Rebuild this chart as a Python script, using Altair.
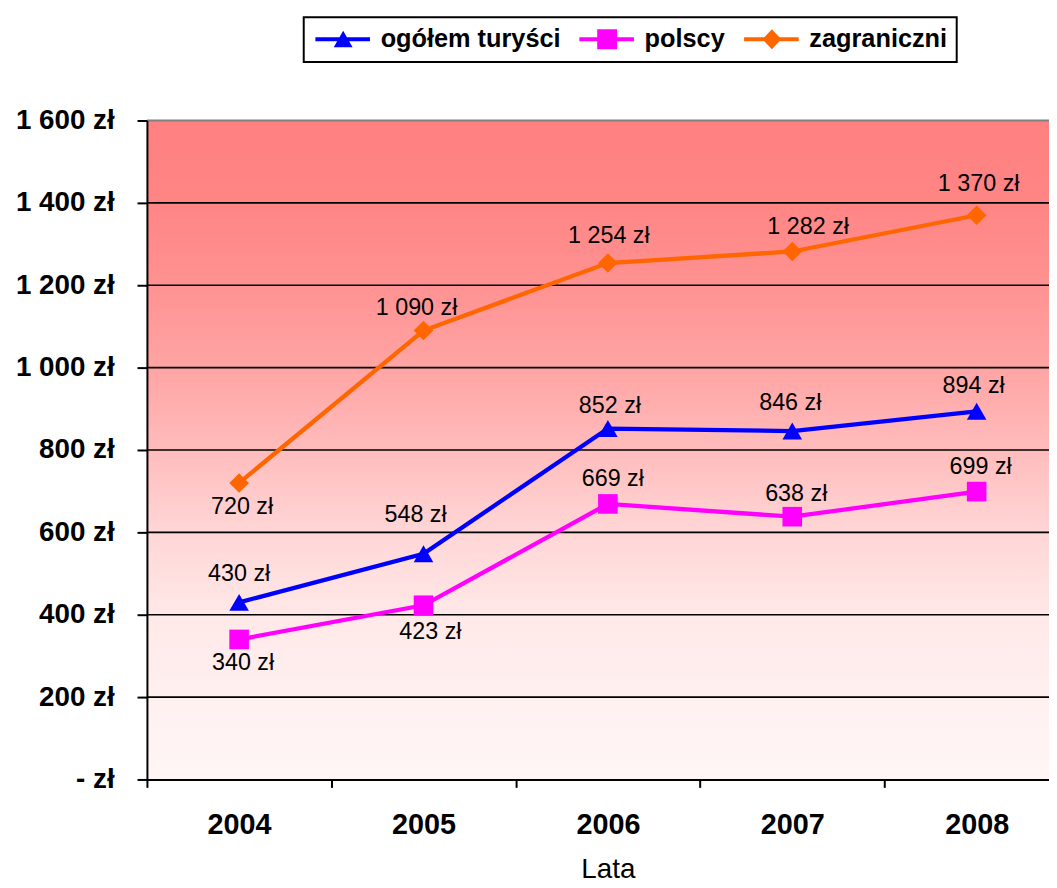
import altair as alt
import pandas as pd

# ---------------- data ----------------
years = ["2004", "2005", "2006", "2007", "2008"]
series_names = ["ogółem turyści", "polscy", "zagraniczni"]
ogolem = [430, 548, 852, 846, 894]
polscy = [340, 423, 669, 638, 699]
zagraniczni = [720, 1090, 1254, 1282, 1370]
y_ticks = [0, 200, 400, 600, 800, 1000, 1200, 1400, 1600]

# ---------------- style ----------------
series_colors = ["#0000FF", "#FF00FF", "#FF6600"]
marker_shapes = ["triangle-up", "square", "diamond"]
# legend symbols: a line segment with the marker on it (unit = 10 px)
legend_paths = [
    "M-1,-0.2H4.5V0.2H-1Z M1.8,-0.85L2.75,0.8H0.85Z",
    "M-1,-0.2H4.5V0.2H-1Z M0.8,-1H2.8V1H0.8Z",
    "M-1,-0.2H4.5V0.2H-1Z M1.8,-1L2.75,0L1.8,1L0.85,0Z",
]
# data label offsets (dx, dy) in pixels, relative to the marker
label_offsets = {
    ("zagraniczni", "2004"): (3, 24), ("zagraniczni", "2005"): (-7, -23),
    ("zagraniczni", "2006"): (1, -27), ("zagraniczni", "2007"): (16, -25),
    ("zagraniczni", "2008"): (2, -31),
    ("ogółem turyści", "2004"): (0, -29), ("ogółem turyści", "2005"): (-8, -39),
    ("ogółem turyści", "2006"): (2, -23), ("ogółem turyści", "2007"): (-2, -28),
    ("ogółem turyści", "2008"): (-3, -25),
    ("polscy", "2004"): (4, 24), ("polscy", "2005"): (7, 27),
    ("polscy", "2006"): (5, -25), ("polscy", "2007"): (4, -23),
    ("polscy", "2008"): (4, -25),
}
grad_stops = [(0, "#FF8080"), (0.125, "#FF8585"), (0.25, "#FF9292"), (0.375, "#FFA4A4"),
              (0.5, "#FFBCBC"), (0.625, "#FFD6D6"), (0.75, "#FFE8E8"), (0.875, "#FFF0F0"),
              (1, "#FFF6F6")]
FONT = "Liberation Sans"
PLOT_W = 909
RANGE_W = 929
PLOT_H = 664

rows = []
for name, vals in zip(series_names, [ogolem, polscy, zagraniczni]):
    for yr, v in zip(years, vals):
        rows.append({"series": name, "year": yr, "value": v})
df = pd.DataFrame(rows)
grid_df = pd.DataFrame({"v": y_ticks[1:]})

x_scale = alt.Scale(type="band", domain=years, paddingInner=0, paddingOuter=0, range=[0, RANGE_W])
y_scale = alt.Scale(domain=[0, 1600], nice=False, zero=True)
color_scale = alt.Scale(domain=series_names, range=series_colors)

zl_expr = "datum.value == 0 ? '- zł' : replace(format(datum.value, ','), ',', ' ') + ' zł'"

x_axis = alt.Axis(
    title="Lata", tickBand="extent", labelAngle=0, labelFont=FONT, labelFontSize=29,
    labelFontWeight="bold", labelColor="black", tickSize=8, tickWidth=2, tickColor="black",
    domainColor="black", domainWidth=2, labelPadding=23, titleFont=FONT, titleFontSize=28,
    titleFontWeight="normal", titleColor="black", titlePadding=17, zindex=1, grid=False,
)
y_axis = alt.Axis(
    title=None, values=y_ticks, labelExpr=zl_expr, labelFont=FONT, labelFontSize=28,
    labelFontWeight="bold", labelColor="black", tickSize=10, tickWidth=2, tickColor="black",
    domainColor="black", domainWidth=2, labelPadding=23, grid=False, zindex=1,
    labelFlush=False, labelOverlap=False,
)

xe = alt.X("year:O", scale=x_scale, axis=x_axis, bandPosition=0.5, title="Lata")
ye = alt.Y("value:Q", scale=y_scale, axis=y_axis, title=None)

base = alt.Chart(df)

bg = alt.Chart(pd.DataFrame({"k": [0]})).mark_rect(
    color=alt.LinearGradient(
        gradient="linear",
        stops=[alt.GradientStop(color=c, offset=o) for o, c in grad_stops],
        x1=0, x2=0, y1=0, y2=1,
    )
).encode(x=alt.value(0), x2=alt.value(PLOT_W), y=alt.value(0), y2=alt.value(PLOT_H))

grid_black = alt.Chart(grid_df).transform_filter("datum.v < 1600").mark_rule(
    color="black", strokeWidth=1.6
).encode(y=alt.Y("v:Q", scale=y_scale, axis=y_axis, title=None))
grid_top = alt.Chart(grid_df).transform_filter("datum.v >= 1600").mark_rule(
    color="#808080", strokeWidth=2
).encode(y=alt.Y("v:Q", scale=y_scale, axis=y_axis, title=None))

leg = alt.Legend(
    title=None, orient="none", legendX=158, legendY=-104, direction="horizontal",
    labelFont=FONT, labelFontSize=25.5, labelFontWeight="bold", labelColor="black",
    labelLimit=0, symbolSize=400, symbolStrokeWidth=0, labelOffset=43, columnPadding=16,
    padding=9, strokeColor="black", fillColor="white", symbolOpacity=1,
)
legend_layer = base.mark_point(filled=True, opacity=0).encode(
    x=xe, y=ye,
    color=alt.Color("series:N", scale=color_scale, legend=leg),
    shape=alt.Shape("series:N", scale=alt.Scale(domain=series_names, range=legend_paths), legend=leg),
)

lines = [
    base.transform_filter(alt.datum.series == s).mark_line(strokeWidth=4.3, color=c).encode(x=xe, y=ye)
    for s, c in zip(series_names, series_colors)
]
points = [
    base.transform_filter(alt.datum.series == s).mark_point(
        shape=shp, filled=True, size=390, opacity=1, strokeWidth=0, color=c
    ).encode(x=xe, y=ye)
    for s, shp, c in zip(series_names, marker_shapes, series_colors)
]

lab_expr = "replace(format(datum.value, ','), ',', ' ') + ' zł'"
texts = []
for (s, yr), (ddx, ddy) in label_offsets.items():
    texts.append(
        base.transform_filter((alt.datum.series == s) & (alt.datum.year == yr))
        .transform_calculate(label=lab_expr)
        .mark_text(dx=ddx, dy=ddy, font=FONT, fontSize=23.5, color="black", baseline="middle")
        .encode(x=xe, y=ye, text="label:N")
    )

chart = alt.layer(
    bg, grid_black, grid_top, legend_layer, *lines, *points, *texts
).properties(
    width=PLOT_W, height=PLOT_H,
    autosize=alt.AutoSizeParams(type="none"),
    padding={"left": 140, "top": 110, "right": 0, "bottom": 106},
).configure_view(stroke=None).configure_legend(strokeWidth=2)

chart.save("out.html", embed_options={"renderer": "svg", "actions": False})
